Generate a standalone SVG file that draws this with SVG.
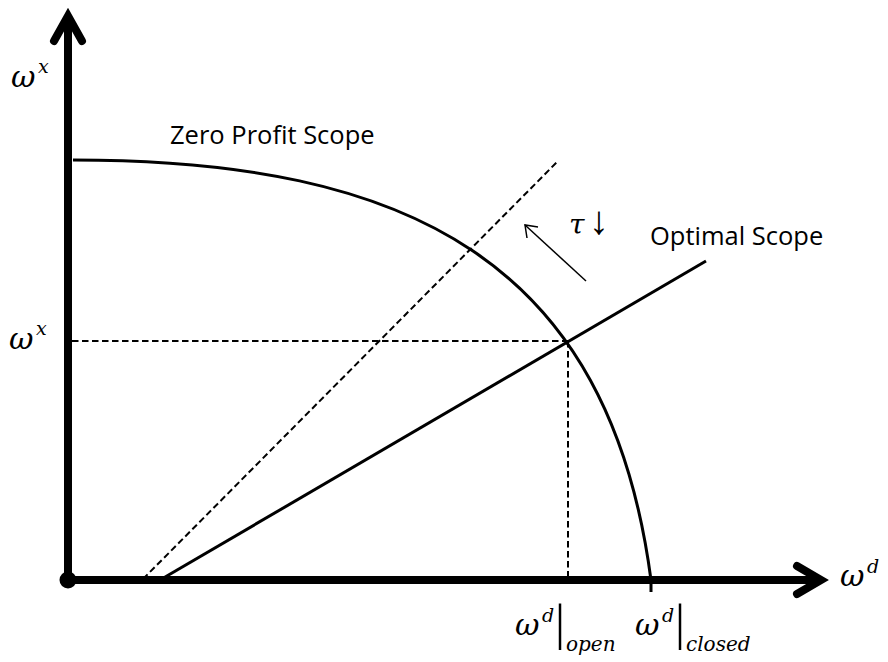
<svg xmlns="http://www.w3.org/2000/svg" width="888" height="662" viewBox="0 0 888 662">
  <style>
    .axis { stroke: #000; stroke-width: 8; fill: none; }
    .head { stroke: #000; stroke-width: 8; fill: none; stroke-linecap: round; stroke-linejoin: miter; }
    .curve { stroke: #000; stroke-width: 3; fill: none; }
    .dash { stroke: #000; stroke-width: 2; fill: none; stroke-dasharray: 6.5 3.5; }
    .thin { stroke: #000; stroke-width: 1.5; fill: none; }
    .lbl { font-family: "Open Sans", "Liberation Sans", sans-serif; font-size: 25.5px; fill: #000; }
    .math { font-family: "DejaVu Serif", "Liberation Serif", serif; font-style: italic; fill: #000; }
    .w { font-size: 30px; }
    .sup { font-size: 19px; }
    .sub { font-size: 20px; }
    .bar { font-family: "Liberation Serif", serif; font-size: 50px; fill: #000; }
  </style>
  <rect width="888" height="662" fill="#fff"/>

  <!-- axes -->
  <g id="axes">
    <line class="axis" x1="68" y1="580" x2="68" y2="16"/>
    <polyline class="head" points="54,41 68,16 82,41"/>
    <line class="axis" x1="68" y1="580" x2="821" y2="580"/>
    <polyline class="head" points="797,566 821,580 797,594"/>
    <circle cx="68" cy="580" r="8.5" fill="#000"/>
  </g>

  <!-- curves and guide lines -->
  <g id="connectors">
    <path id="zero-profit" class="curve" d="M73,160 C410,160 609,262 651,580 L651,592"/>
    <line id="optimal" class="curve" x1="160" y1="580" x2="706" y2="261"/>
    <line id="optimal-low-tau" class="dash" x1="143" y1="579" x2="558" y2="161"/>
    <line class="dash" x1="72" y1="341" x2="568" y2="341"/>
    <line class="dash" x1="568" y1="341" x2="568" y2="576"/>
    <g id="shift-arrow">
      <line class="thin" x1="586" y1="281" x2="525" y2="225"/>
      <polyline class="thin" points="527,238 525,225 538,227"/>
    </g>
  </g>

  <!-- curve labels -->
  <g id="label-zero-profit"><text class="lbl" x="170" y="144">Zero Profit Scope</text></g>
  <g id="label-optimal"><text class="lbl" x="650" y="245">Optimal Scope</text></g>
  <g id="label-tau">
    <text class="math" x="569" y="234" font-size="28px">τ</text>
    <text x="589" y="234" font-family="Liberation Serif, serif" font-size="40px" fill="#000">↓</text>
  </g>

  <!-- axis labels -->
  <g id="label-wx-axis">
    <text class="math w" x="11" y="87">ω</text>
    <text class="math sup" x="38" y="73">x</text>
  </g>
  <g id="label-wx-value">
    <text class="math w" x="9" y="349">ω</text>
    <text class="math sup" x="36" y="335">x</text>
  </g>
  <g id="label-wd-axis">
    <text class="math w" x="840" y="586">ω</text>
    <text class="math sup" x="867" y="573">d</text>
  </g>
  <g id="label-wd-open">
    <text class="math w" x="515" y="635">ω</text>
    <text class="math sup" x="542" y="622">d</text>
    <text class="bar" x="555" y="639">|</text>
    <text class="math sub" x="566" y="651">open</text>
  </g>
  <g id="label-wd-closed">
    <text class="math w" x="635" y="635">ω</text>
    <text class="math sup" x="662" y="622">d</text>
    <text class="bar" x="675" y="639">|</text>
    <text class="math sub" x="686" y="651">closed</text>
  </g>
</svg>
